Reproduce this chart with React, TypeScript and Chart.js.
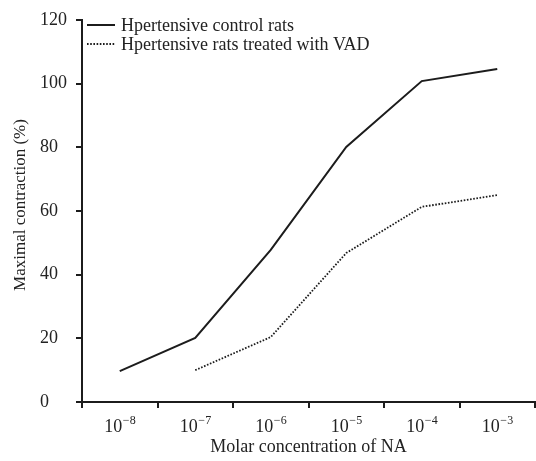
import React, { useEffect, useRef } from "react";
import { Chart, registerables } from "chart.js";

Chart.register(...registerables);

const tickBase = "10";
const tickExponents = ["−8", "−7", "−6", "−5", "−4", "−3"];
const categories = tickExponents.map((e) => tickBase + "^" + e);
const controlValues: (number | null)[] = [9.7, 20.1, 47.8, 80.1, 100.8, 104.6];
const treatedValues: (number | null)[] = [null, 10, 20.4, 46.8, 61.3, 65];
const seriesLabels = ["Hpertensive control rats", "Hpertensive rats treated with VAD"];
const yMin = 0;
const yMax = 120;
const yStep = 20;
const xTitle = "Molar concentration of NA";
const yTitle = "Maximal contraction (%)";

const FONT = '"Liberation Serif", "DejaVu Serif", serif';
const INK = "#1c1c1c";
const TEXT = "#222222";

const overlayPlugin = {
  id: "overlay",
  afterDraw(chart: any) {
    const { ctx, chartArea } = chart;
    // y-axis title
    ctx.save();
    ctx.font = `17px ${FONT}`;
    ctx.fillStyle = TEXT;
    ctx.textAlign = "center";
    ctx.textBaseline = "middle";
    ctx.translate(21, (chartArea.top + chartArea.bottom) / 2 - 6);
    ctx.rotate(-Math.PI / 2);
    ctx.fillText(yTitle, 0, 0);
    ctx.restore();

    // x tick labels with superscript exponents
    const xs = chart.scales.x;
    ctx.save();
    ctx.fillStyle = TEXT;
    ctx.textBaseline = "alphabetic";
    ctx.textAlign = "left";
    tickExponents.forEach((exp, i) => {
      const cx = xs.getPixelForValue(i);
      ctx.font = `18px ${FONT}`;
      const wb = ctx.measureText(tickBase).width;
      ctx.font = `12px ${FONT}`;
      const we = ctx.measureText(exp).width;
      const x0 = cx - (wb + we) / 2;
      const base = chartArea.bottom + 30;
      ctx.font = `18px ${FONT}`;
      ctx.fillText(tickBase, x0, base);
      ctx.font = `12px ${FONT}`;
      ctx.fillText(exp, x0 + wb + 0.5, base - 8);
    });
    ctx.restore();

    // legend
    chart.data.datasets.forEach((ds: any, i: number) => {
      const y = chartArea.top + 5 + i * 19;
      ctx.save();
      ctx.strokeStyle = ds.borderColor;
      ctx.lineWidth = ds.borderWidth;
      ctx.setLineDash(ds.borderDash || []);
      ctx.beginPath();
      ctx.moveTo(chartArea.left + 5, y);
      ctx.lineTo(chartArea.left + 33, y);
      ctx.stroke();
      ctx.setLineDash([]);
      ctx.font = `18px ${FONT}`;
      ctx.fillStyle = TEXT;
      ctx.textAlign = "left";
      ctx.textBaseline = "middle";
      ctx.fillText(ds.label, chartArea.left + 39, y + 1);
      ctx.restore();
    });
  },
};

export default function App() {
  const ref = useRef<HTMLCanvasElement | null>(null);
  useEffect(() => {
    if (!ref.current) return;
    const font = { family: FONT, size: 18 };
    const chart = new Chart(ref.current, {
      type: "line",
      data: {
        labels: categories,
        datasets: [
          {
            label: seriesLabels[0],
            data: controlValues,
            borderColor: INK,
            borderWidth: 2,
            pointRadius: 0,
            tension: 0,
            fill: false,
          },
          {
            label: seriesLabels[1],
            data: treatedValues,
            borderColor: INK,
            borderWidth: 1.8,
            borderDash: [1.6, 1.6],
            pointRadius: 0,
            tension: 0,
            fill: false,
            spanGaps: false,
          },
        ],
      },
      options: {
        responsive: false,
        animation: false,
        layout: { padding: { left: 40, top: 20, right: 1, bottom: 0 } },
        plugins: {
          legend: { display: false },
          tooltip: { enabled: false },
        },
        scales: {
          x: {
            type: "category",
            offset: true,
            grid: {
              display: true,
              drawOnChartArea: false,
              offset: true,
              tickLength: 6,
              color: INK,
              lineWidth: 2,
            },
            border: { display: true, color: INK, width: 2 },
            ticks: { font, color: "rgba(0,0,0,0)", padding: 7, maxRotation: 0, autoSkip: false },
            title: {
              display: true,
              text: xTitle,
              font,
              color: TEXT,
              padding: { top: 0, bottom: 3 },
            },
            afterFit: (s: any) => {
              s.height = 59;
            },
          },
          y: {
            min: yMin,
            max: yMax,
            grid: {
              display: true,
              drawOnChartArea: false,
              tickLength: 6,
              color: INK,
              lineWidth: 2,
            },
            border: { display: true, color: INK, width: 2 },
            ticks: { stepSize: yStep, font, color: TEXT, crossAlign: "far" },
            afterFit: (s: any) => {
              s.width = 42;
            },
          },
        },
      },
      plugins: [overlayPlugin],
    } as any);
    return () => chart.destroy();
  }, []);
  return (
    <div style={{ position: "absolute", left: 0, top: 0, width: 536, height: 461, background: "#fff" }}>
      <canvas ref={ref} width={536} height={461} />
    </div>
  );
}
